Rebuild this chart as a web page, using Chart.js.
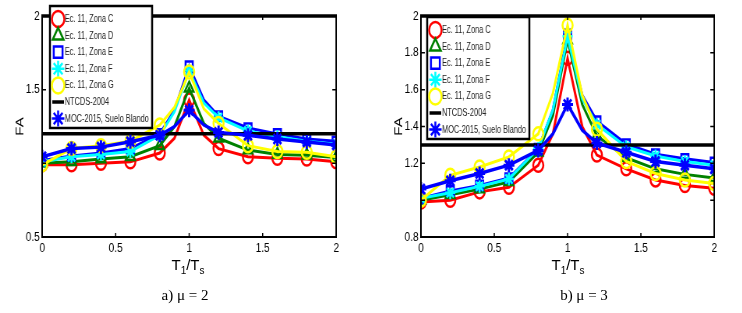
<!DOCTYPE html>
<html>
<head>
<meta charset="utf-8">
<script src="https://cdn.jsdelivr.net/npm/chart.js@4.4.1/dist/chart.umd.min.js"></script>
<style>
body{margin:0;background:#fff;}
#wrap{position:relative;width:742px;height:313px;overflow:hidden;background:#fff;}
canvas{position:absolute;top:0;transform-origin:0 0;transform:scaleX(0.78);}
.xt{position:absolute;top:257px;width:80px;text-align:center;font:15px "Liberation Sans",Arial,sans-serif;line-height:16px;color:#000;}
.xt sub{font-size:10px;vertical-align:-4px;line-height:0;}
.cap{position:absolute;top:287px;width:100px;text-align:center;font:15px "Liberation Serif","Times New Roman",serif;color:#000;}
</style>
</head>
<body>
<div id="wrap">
<canvas id="mu2" width="476" height="313" style="left:0"></canvas>
<canvas id="mu3" width="476" height="313" style="left:371px"></canvas>
<div class="xt" style="left:148px">T<sub>1</sub>/T<sub>s</sub></div>
<div class="xt" style="left:528px">T<sub>1</sub>/T<sub>s</sub></div>
<div class="cap" style="left:135px">a) μ = 2</div>
<div class="cap" style="left:534px">b) μ = 3</div>
</div>
<script>
/* data */
const tRatio = [0, 0.2, 0.4, 0.6, 0.8, 0.9, 1.0, 1.1, 1.2, 1.4, 1.6, 1.8, 2.0];
const seriesNames = ["Ec. 11, Zona C", "Ec. 11, Zona D", "Ec. 11, Zona E", "Ec. 11, Zona F", "Ec. 11, Zona G", "NTCDS-2004", "MOC-2015, Suelo Blando"];

// mu = 2
const mu2ZonaC = [0.99, 0.99, 1.00, 1.01, 1.07, 1.17, 1.43, 1.19, 1.10, 1.045, 1.035, 1.03, 1.01];
const mu2ZonaD = [1.00, 1.01, 1.03, 1.045, 1.12, 1.25, 1.51, 1.27, 1.17, 1.09, 1.06, 1.055, 1.04];
const mu2ZonaE = [1.02, 1.05, 1.07, 1.10, 1.20, 1.36, 1.66, 1.43, 1.32, 1.24, 1.20, 1.165, 1.15];
const mu2ZonaF = [1.01, 1.045, 1.06, 1.08, 1.19, 1.35, 1.63, 1.41, 1.31, 1.22, 1.18, 1.15, 1.13];
const mu2ZonaG = [0.99, 1.10, 1.12, 1.15, 1.26, 1.38, 1.62, 1.37, 1.27, 1.12, 1.08, 1.075, 1.045];
const mu2Moc = [1.045, 1.10, 1.11, 1.147, 1.19, 1.25, 1.36, 1.26, 1.21, 1.19, 1.165, 1.145, 1.125];
const mu2Ntcds = [1.2, 1.2];

// mu = 3
const mu3ZonaC = [0.99, 1.00, 1.045, 1.07, 1.19, 1.36, 1.77, 1.40, 1.245, 1.17, 1.11, 1.08, 1.065];
const mu3ZonaD = [1.00, 1.03, 1.06, 1.10, 1.26, 1.46, 1.87, 1.52, 1.35, 1.23, 1.17, 1.14, 1.12];
const mu3ZonaE = [1.01, 1.05, 1.08, 1.12, 1.28, 1.49, 1.90, 1.57, 1.43, 1.305, 1.25, 1.225, 1.205];
const mu3ZonaF = [1.01, 1.04, 1.075, 1.115, 1.28, 1.49, 1.89, 1.55, 1.41, 1.29, 1.24, 1.21, 1.19];
const mu3ZonaG = [1.00, 1.135, 1.18, 1.235, 1.36, 1.58, 1.95, 1.57, 1.385, 1.21, 1.145, 1.11, 1.09];
const mu3Moc = [1.06, 1.105, 1.145, 1.19, 1.27, 1.36, 1.52, 1.38, 1.31, 1.26, 1.21, 1.19, 1.17];
const mu3Ntcds = [1.3, 1.3];

const ntcdsX = [0, 2];
const xTicks = [0, 0.5, 1, 1.5, 2];
const xLabels = ["0", "0.5", "1", "1.5", "2"];
const mu2YTicks = [0.5, 1, 1.5, 2];
const mu2YLabels = ["0.5", "", "1.5", "2"];
const mu3YTicks = [0.8, 1, 1.2, 1.4, 1.6, 1.8, 2];
const mu3YLabels = ["0.8", "", "1.2", "1.4", "1.6", "1.8", "2"];

Chart.defaults.font.family = '"Liberation Sans", Arial, sans-serif';
Chart.defaults.color = '#000';

const colors = ['#ff0000', '#008000', '#0000ff', '#00ffff', '#ffff00', '#000000', '#0000ff'];
const markers = ['circle', 'triangle', 'rect', 'star', 'circle', false, 'star'];
const drawOrder = [6, 5, 4, 3, 2, 1, 0];

// markers only every 0.2
function onStep(x){ return Math.abs(x * 5 - Math.round(x * 5)) < 1e-6; }

function makeSets(zones, moc, ntcds){
  const sets = zones.map((vals, i) => ({
    label: seriesNames[i],
    data: tRatio.map((t, j) => ({x: t, y: vals[j]})),
    borderColor: colors[i],
    backgroundColor: 'transparent',
    borderWidth: 3,
    pointStyle: markers[i],
    pointBorderColor: colors[i],
    pointBackgroundColor: 'transparent',
    pointBorderWidth: 2.5,
    pointRadius: c => (c.raw && onStep(c.raw.x)) ? 6.5 : 0,
    order: drawOrder[i]
  }));
  sets.push({
    label: seriesNames[5],
    data: ntcdsX.map((t, j) => ({x: t, y: ntcds[j]})),
    borderColor: '#000', borderWidth: 3.5, pointRadius: 0, order: drawOrder[5]
  });
  sets.push({
    label: seriesNames[6],
    data: tRatio.map((t, j) => ({x: t, y: moc[j]})),
    borderColor: colors[6], backgroundColor: 'transparent', borderWidth: 3.5,
    pointStyle: 'star', pointBorderColor: colors[6], pointBorderWidth: 3,
    pointRadius: c => (c.raw && onStep(c.raw.x)) ? 7 : 0,
    order: drawOrder[6]
  });
  return sets;
}

/* box round the plot, inner ticks */
const frame = {
  id: 'frame',
  afterDatasetsDraw(chart){
    const {ctx, chartArea: a, scales} = chart;
    ctx.save();
    ctx.strokeStyle = '#000';
    ctx.lineWidth = 2;
    ctx.strokeRect(a.left, a.top, a.right - a.left, a.bottom - a.top);
    ctx.lineWidth = 3.5;
    ctx.beginPath(); ctx.moveTo(a.left - 1, a.top); ctx.lineTo(a.right + 1, a.top); ctx.stroke();
    ctx.lineWidth = 1.5;
    scales.y.ticks.forEach(t => {
      const y = scales.y.getPixelForValue(t.value);
      ctx.beginPath();
      ctx.moveTo(a.left, y); ctx.lineTo(a.left + 5, y);
      ctx.moveTo(a.right, y); ctx.lineTo(a.right - 5, y);
      ctx.stroke();
    });
    scales.x.ticks.forEach(t => {
      const x = scales.x.getPixelForValue(t.value);
      ctx.beginPath();
      ctx.moveTo(x, a.bottom); ctx.lineTo(x, a.bottom - 4);
      ctx.moveTo(x, a.top); ctx.lineTo(x, a.top + 4);
      ctx.stroke();
    });
    ctx.restore();
  }
};

/* legend box inside the plot */
const boxLegend = {
  id: 'boxLegend',
  afterDraw(chart, args, opts){
    const ctx = chart.ctx;
    const L = opts.left, T = opts.top;
    ctx.save();
    ctx.fillStyle = '#fff';
    ctx.fillRect(L, T, 131, 122);
    ctx.strokeStyle = '#000';
    ctx.lineWidth = 2.5;
    ctx.strokeRect(L, T, 131, 122);
    chart.data.datasets.forEach((ds, i) => {
      const y = T + 13 + i * 16.6;
      const x = L + 10.5;
      ctx.strokeStyle = ds.borderColor;
      ctx.fillStyle = 'rgba(0,0,0,0)';
      if (ds.pointStyle) {
        ctx.lineWidth = 2.5;
        Chart.helpers.drawPoint(ctx, {pointStyle: ds.pointStyle, radius: 8, rotation: 0, borderWidth: 2.5}, x, y);
      } else {
        ctx.lineWidth = 3.5;
        ctx.beginPath(); ctx.moveTo(L + 3, y); ctx.lineTo(L + 18, y); ctx.stroke();
      }
      // narrow text like the original
      ctx.save();
      ctx.translate(L + 19, y);
      ctx.scale(0.86, 1);
      ctx.fillStyle = '#222';
      ctx.font = '11px "Liberation Sans", Arial, sans-serif';
      ctx.textBaseline = 'middle';
      ctx.fillText(ds.label, 0, 0);
      ctx.restore();
    });
    ctx.restore();
  }
};

function makeChart(id, sets, yTicks, yLabels, opt){
  return new Chart(document.getElementById(id), {
    type: 'line',
    data: {datasets: sets},
    options: {
      responsive: false,
      animation: false,
      layout: {padding: {left: 0, top: 16, right: opt.padRight, bottom: 0}},
      plugins: {
        legend: {display: false},
        tooltip: {enabled: false},
        boxLegend: {left: opt.legLeft, top: opt.legTop}
      },
      scales: {
        x: {
          type: 'linear', min: 0, max: 2,
          grid: {display: false, drawTicks: false},
          border: {display: false},
          afterBuildTicks: s => { s.ticks = xTicks.map(v => ({value: v})); },
          ticks: {font: {size: 13}, padding: 4, maxRotation: 0, autoSkip: false,
                  callback: (v, i) => xLabels[i]},
          afterFit: s => { s.height = 76; }
        },
        y: {
          min: yTicks[0], max: yTicks[yTicks.length - 1],
          grid: {display: false, drawTicks: false},
          border: {display: false},
          afterBuildTicks: s => { s.ticks = yTicks.map(v => ({value: v})); },
          ticks: {font: {size: 13}, padding: 3, autoSkip: false,
                  callback: (v, i) => yLabels[i]},
          title: {display: true, text: 'FA', font: {size: 15}, padding: {top: opt.titlePad, bottom: 0}},
          afterFit: s => { s.width = opt.yWidth; }
        }
      }
    },
    plugins: [frame, boxLegend]
  });
}

makeChart('mu2',
  makeSets([mu2ZonaC, mu2ZonaD, mu2ZonaE, mu2ZonaF, mu2ZonaG], mu2Moc, mu2Ntcds),
  mu2YTicks, mu2YLabels,
  {padRight: 45, yWidth: 54, titlePad: 17, legLeft: 64, legTop: 6});

makeChart('mu3',
  makeSets([mu3ZonaC, mu3ZonaD, mu3ZonaE, mu3ZonaF, mu3ZonaG], mu3Moc, mu3Ntcds),
  mu3YTicks, mu3YLabels,
  {padRight: 36, yWidth: 64, titlePad: 27, legLeft: 72, legTop: 17});
</script>
</body>
</html>
